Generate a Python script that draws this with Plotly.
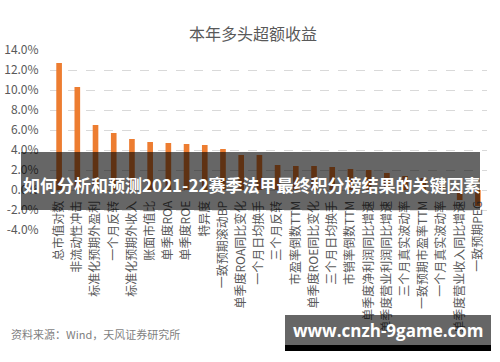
import plotly.graph_objects as go

categories = [
    "总市值对数", "非流动性冲击", "标准化预期外盈利", "一个月反转", "标准化预期外收入",
    "账面市值比", "单季度ROA", "单季度ROE", "特异度", "一致预期滚动BP",
    "单季度ROA同比变化", "一个月日均换手", "三个月反转", "市盈率倒数TTM", "单季度ROE同比变化",
    "三个月日均换手", "市销率倒数TTM", "单季度净利润同比增速", "单季度营业利润同比增速", "三个月真实波动率",
    "一致预期市盈率TTM", "一个月真实波动率", "单季度营业收入同比增速", "一致预期PEG",
]
excess_return = [
    12.7, 10.3, 6.5, 5.7, 5.1,
    4.8, 4.7, 4.6, 4.5, 4.1,
    3.5, 3.5, 2.5, 2.4, 2.4,
    2.3, 2.1, 2.0, 1.7, 1.4,
    1.2, 0.7, -1.0, -1.6,
]
y_ticks = [-4, -2, 0, 2, 4, 6, 8, 10, 12, 14]

title_text = "本年多头超额收益"
source_text = "资料来源：Wind，天风证券研究所"
overlay_text = "如何分析和预测2021-22赛季法甲最终积分榜结果的关键因素"
watermark_text = "www.cnzh-9game.com"

W, H = 500, 362
ML, MR, MT, MB = 50, 13, 50, 132
PW, PH = W - ML - MR, H - MT - MB
Y_MIN, Y_MAX = -4, 14
FONT = "Noto Sans CJK SC"


def px_x(p):
    return (p - ML) / PW


def px_y(p):
    return (H - MB - p) / PH


fig = go.Figure(
    go.Bar(
        x=categories,
        y=excess_return,
        marker=dict(color="#ED7D31", line=dict(width=0)),
        hoverinfo="x+y",
    )
)

zero_pos = (0 - Y_MIN) / (Y_MAX - Y_MIN)

fig.update_layout(
    width=W,
    height=H,
    margin=dict(l=ML, r=MR, t=MT, b=MB, pad=0),
    paper_bgcolor="white",
    plot_bgcolor="white",
    showlegend=False,
    bargap=0.69,
    font=dict(family=FONT, color="#595959"),
    xaxis=dict(
        type="category",
        anchor="free",
        position=zero_pos,
        tickangle=-90,
        tickfont=dict(size=12, color="#595959", family=FONT),
        showline=False,
        showgrid=False,
        zeroline=False,
        ticks="outside",
        ticklen=5,
        tickcolor="rgba(0,0,0,0)",
        automargin=False,
    ),
    yaxis=dict(
        range=[Y_MIN, Y_MAX],
        tickvals=y_ticks,
        ticktext=[f"{v:.1f}%" for v in y_ticks],
        tickfont=dict(size=12, color="#595959", family=FONT),
        showgrid=True,
        gridcolor="#d9d9d9",
        griddash="dash",
        gridwidth=1,
        zeroline=False,
        showline=False,
        ticks="outside",
        ticklen=8,
        tickcolor="rgba(0,0,0,0)",
        automargin=False,
    ),
)

shapes = [
    dict(type="rect", xref="paper", yref="paper",
         x0=px_x(21), x1=px_x(480), y0=px_y(210), y1=px_y(152),
         fillcolor="rgba(0,0,0,0.6)", line=dict(width=0), layer="above"),
    dict(type="rect", xref="paper", yref="paper",
         x0=px_x(285), x1=px_x(491), y0=px_y(345), y1=px_y(315),
         fillcolor="rgba(0,0,0,0.6)", line=dict(width=0), layer="above"),
    dict(type="rect", xref="paper", yref="paper",
         x0=px_x(285), x1=px_x(491), y0=px_y(351), y1=px_y(345),
         fillcolor="#000000", line=dict(width=0), layer="above"),
]
fig.update_layout(shapes=shapes)

fig.add_annotation(
    text=title_text, xref="paper", yref="paper",
    x=px_x(253), y=px_y(33), xanchor="center", yanchor="middle",
    showarrow=False, font=dict(size=16, color="#595959", family=FONT),
)
fig.add_annotation(
    text=f"<b>{overlay_text}</b>", xref="paper", yref="paper",
    x=px_x(251), y=px_y(184), xanchor="center", yanchor="middle",
    showarrow=False, font=dict(size=17, color="white", family=FONT),
)
fig.add_annotation(
    text=f"<b>{watermark_text}</b>", xref="paper", yref="paper",
    x=px_x(388), y=px_y(330), xanchor="center", yanchor="middle",
    showarrow=False, font=dict(size=17, color="white", family="Open Sans"),
)
fig.add_annotation(
    text=source_text, xref="paper", yref="paper",
    x=px_x(9), y=px_y(334), xanchor="left", yanchor="middle",
    showarrow=False, font=dict(size=11, color="#7f7f7f", family=FONT),
)

fig.write_html(
    "out.html",
    config={"displayModeBar": False},
    post_script="document.body.style.margin='0';document.body.style.overflow='hidden';",
)
